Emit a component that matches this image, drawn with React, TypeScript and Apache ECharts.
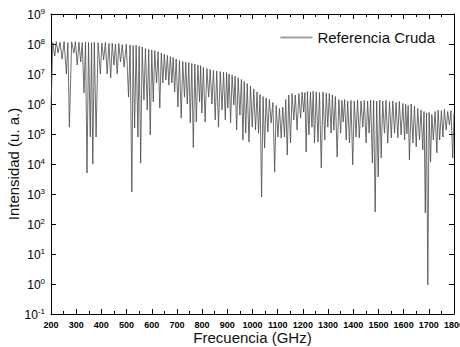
import React, { useEffect, useRef } from "react";
import * as echarts from "echarts";

// Fringe minima (frequency GHz, log10 intensity)
const troughFreqs = [200, 215, 228, 244, 261, 273, 291, 304, 318, 331, 343, 356, 366, 379, 396, 409, 423, 437, 450, 463, 476, 490, 508, 521, 532, 545, 556, 569, 582, 594, 606, 619, 632, 644, 656, 668, 680, 691, 704, 717, 730, 741, 753, 765, 777, 790, 799, 812, 826, 839, 852, 865, 879, 892, 902, 913, 926, 937, 950, 962, 973, 986, 999, 1012, 1024, 1036, 1048, 1061, 1074, 1088, 1101, 1114, 1127, 1138, 1151, 1164, 1177, 1191, 1203, 1213, 1224, 1236, 1246, 1260, 1273, 1287, 1299, 1312, 1323, 1336, 1350, 1360, 1372, 1385, 1398, 1411, 1424, 1438, 1451, 1463, 1476, 1487, 1499, 1511, 1524, 1537, 1551, 1564, 1577, 1590, 1604, 1613, 1623, 1637, 1650, 1663, 1676, 1686, 1696, 1707, 1718, 1732, 1743, 1756, 1769, 1782, 1795];
const troughExps = [5.8, 7.6, 7.7, 7.5, 7.0, 5.23, 7.7, 7.3, 7.4, 6.37, 3.7, 4.9, 4.0, 4.9, 7.0, 7.47, 7.0, 6.87, 7.3, 7.0, 7.4, 7.23, 6.23, 3.07, 5.2, 4.9, 4.03, 6.13, 5.8, 4.97, 6.07, 6.7, 5.87, 6.7, 6.8, 6.63, 6.7, 6.4, 5.9, 5.53, 6.23, 6.0, 5.37, 4.55, 5.4, 6.07, 5.7, 5.4, 6.23, 6.0, 5.47, 5.23, 5.8, 5.47, 5.87, 5.37, 5.97, 5.13, 5.63, 4.8, 5.03, 4.73, 5.23, 5.13, 5.03, 2.9, 4.53, 5.07, 5.37, 3.73, 4.9, 4.87, 4.9, 4.3, 4.7, 5.47, 5.13, 5.53, 5.73, 4.4, 4.97, 5.23, 4.7, 4.73, 3.87, 4.8, 5.23, 5.03, 5.13, 4.23, 5.03, 5.4, 4.8, 4.7, 3.97, 4.9, 4.87, 5.23, 4.7, 5.03, 4.03, 2.4, 3.57, 4.2, 5.03, 4.7, 4.87, 5.03, 4.87, 4.97, 4.8, 5.0, 4.13, 4.7, 4.57, 4.8, 4.47, 2.37, -0.03, 4.07, 4.8, 4.37, 4.8, 4.9, 5.13, 5.3, 4.2];

// Fringe maxima (frequency GHz, log10 intensity)
const peakFreqs = [207, 221, 236, 252, 267, 282, 297, 311, 324, 337, 349, 361, 372, 387, 402, 416, 430, 443, 456, 469, 483, 499, 514, 526, 538, 550, 562, 575, 588, 600, 612, 625, 638, 650, 662, 674, 685, 697, 710, 723, 735, 747, 759, 771, 783, 794, 805, 819, 832, 845, 858, 872, 885, 897, 907, 919, 931, 943, 956, 967, 979, 992, 1005, 1018, 1030, 1042, 1054, 1067, 1081, 1094, 1107, 1120, 1132, 1144, 1157, 1170, 1184, 1197, 1208, 1218, 1230, 1241, 1253, 1266, 1280, 1293, 1305, 1317, 1329, 1343, 1355, 1366, 1378, 1391, 1404, 1417, 1431, 1444, 1457, 1469, 1481, 1493, 1505, 1517, 1530, 1544, 1557, 1570, 1583, 1597, 1608, 1618, 1630, 1643, 1656, 1669, 1681, 1691, 1701, 1712, 1725, 1737, 1750, 1762, 1775, 1788, 1800];
const peakExps = [8.05, 8.08, 8.06, 8.08, 8.05, 8.07, 8.08, 8.06, 8.05, 8.07, 8.05, 8.04, 8.06, 8.05, 8.03, 8.05, 8.02, 8.03, 8.0, 8.02, 7.98, 8.0, 7.97, 7.95, 7.96, 7.93, 7.9, 7.85, 7.82, 7.8, 7.78, 7.75, 7.7, 7.66, 7.62, 7.58, 7.55, 7.5, 7.45, 7.42, 7.4, 7.38, 7.35, 7.33, 7.3, 7.28, 7.22, 7.18, 7.15, 7.12, 7.1, 7.08, 7.06, 7.05, 7.0, 6.97, 6.93, 6.88, 6.82, 6.75, 6.68, 6.6, 6.5, 6.4, 6.32, 6.25, 6.2, 6.15, 6.05, 5.95, 5.85, 5.9, 6.15, 6.3, 6.35, 6.3, 6.35, 6.4, 6.38, 6.42, 6.4, 6.43, 6.4, 6.38, 6.4, 6.37, 6.35, 6.3, 6.25, 6.15, 6.12, 6.15, 6.1, 6.12, 6.1, 6.13, 6.1, 6.12, 6.1, 6.13, 6.12, 6.1, 6.13, 6.1, 6.12, 6.08, 6.1, 6.05, 6.08, 6.02, 6.0, 5.95, 6.0, 5.93, 5.85, 5.8, 5.75, 5.7, 5.72, 5.65, 5.75, 5.8, 5.78, 5.82, 5.75, 5.78, 5.7];

const xTicks = [200, 300, 400, 500, 600, 700, 800, 900, 1000, 1100, 1200, 1300, 1400, 1500, 1600, 1700, 1800];
const seriesName = "Referencia Cruda";

const FONT = "'Liberation Sans', Arial, sans-serif";

export default function App() {
  const ref = useRef<HTMLDivElement>(null);
  useEffect(() => {
    if (!ref.current) return;
    const chart = echarts.init(ref.current, null, { renderer: "svg" });
    const pts: [number, number][] = [];
    troughFreqs.forEach((f, i) => pts.push([f, Math.pow(10, troughExps[i])]));
    peakFreqs.forEach((f, i) => pts.push([f, Math.pow(10, peakExps[i])]));
    pts.sort((a, b) => a[0] - b[0]);

    const tickCommon = {
      axisLine: { show: true, lineStyle: { color: "#000", width: 1 } },
      splitLine: { show: false },
    };
    const xCommon: any = {
      type: "value",
      min: xTicks[0],
      max: xTicks[xTicks.length - 1],
      interval: 100,
      ...tickCommon,
      axisTick: { show: true, inside: true, length: 5, lineStyle: { color: "#000" } },
      minorTick: { show: true, splitNumber: 2, length: 3, lineStyle: { color: "#000" } },
    };
    const yCommon: any = {
      type: "log",
      logBase: 10,
      min: 0.1,
      max: 1e9,
      interval: 1,
      ...tickCommon,
      axisTick: { show: true, inside: true, length: 5, lineStyle: { color: "#000" } },
      minorTick: { show: false },
    };

    chart.setOption({
      animation: false,
      backgroundColor: "#fff",
      grid: { left: 51, right: 6, top: 14, bottom: 33, containLabel: false, outerBoundsMode: "none" },
      legend: {
        show: true,
        data: [{ name: seriesName, itemStyle: { color: "#a0a0a0" } }],
        right: 20,
        top: 25,
        icon: "rect",
        itemWidth: 32,
        itemHeight: 2,
        itemGap: 6,
        textStyle: { fontFamily: FONT, fontSize: 15, color: "#111" },
      },
      xAxis: [
        {
          ...xCommon,
          position: "bottom",
          name: "Frecuencia (GHz)",
          nameLocation: "middle",
          nameMoveOverlap: false,
          nameGap: 23,
          nameTextStyle: { fontFamily: FONT, fontSize: 15, color: "#111", verticalAlign: "middle" },
          axisLabel: {
            show: true,
            fontFamily: FONT,
            fontSize: 9,
            fontWeight: "bold",
            color: "#000",
            margin: 6,
            showMaxLabel: true,
            showMinLabel: true,
            formatter: (v: number) => String(v),
          },
        },
        { ...xCommon, position: "top", axisLabel: { show: false } },
      ],
      yAxis: [
        {
          ...yCommon,
          position: "left",
          name: "Intensidad (u. a.)",
          nameLocation: "middle",
          nameMoveOverlap: false,
          nameGap: 38,
          nameTextStyle: { fontFamily: FONT, fontSize: 15, color: "#111", verticalAlign: "middle" },
          axisLabel: {
            show: true,
            margin: 6,
            formatter: (v: number) => {
              const e = Math.round(Math.log10(v));
              return "{b|10}{s|" + e + "}";
            },
            rich: {
              b: { fontFamily: FONT, fontSize: 12, color: "#000", verticalAlign: "bottom", lineHeight: 14 },
              s: { fontFamily: FONT, fontSize: 8, color: "#000", verticalAlign: "top", lineHeight: 14, padding: [0, 0, 6, 0] },
            },
          },
        },
        { ...yCommon, position: "right", axisLabel: { show: false } },
      ],
      series: [
        {
          name: seriesName,
          type: "line",
          xAxisIndex: 0,
          yAxisIndex: 0,
          data: pts,
          showSymbol: false,
          symbol: "none",
          lineStyle: { color: "#4a4a4a", width: 0.8 },
          itemStyle: { color: "#a0a0a0" },
        },
      ],
    });
    return () => chart.dispose();
  }, []);
  return <div ref={ref} style={{ width: 460, height: 347, position: "absolute", left: 0, top: 0 }} />;
}
